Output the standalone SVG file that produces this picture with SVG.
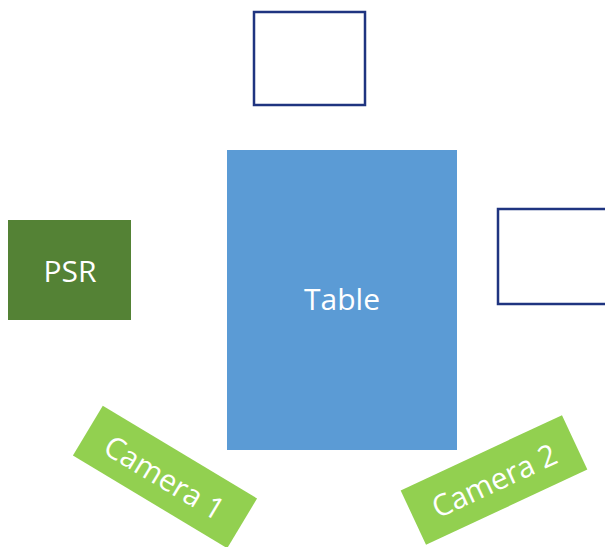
<svg xmlns="http://www.w3.org/2000/svg" width="605" height="547" viewBox="0 0 605 547">
<style>
.lbl{font-family:"Open Sans","Noto Sans","Liberation Sans",sans-serif;font-size:30px;fill:#ffffff;text-anchor:middle;dominant-baseline:central}
.outline{fill:#ffffff;stroke:#1f3480;stroke-width:2.5}
.cam{fill:#92d050}
</style>
<rect width="605" height="547" fill="#ffffff"/>
<g id="top-box"><rect class="outline" x="254" y="12" width="111" height="93"/></g>
<g id="right-box"><rect class="outline" x="498" y="209" width="120" height="95"/></g>
<g id="psr"><rect x="8" y="220" width="123" height="100" fill="#548235"/><text class="lbl" x="70" y="270">PSR</text></g>
<g id="table"><rect x="227" y="150" width="230" height="300" fill="#5b9bd5"/><text class="lbl" x="342" y="298">Table</text></g>
<g id="camera1" transform="translate(165,477) rotate(31)"><rect class="cam" x="-90" y="-29" width="180" height="58"/><text class="lbl" x="0" y="0">Camera 1</text></g>
<g id="camera2" transform="translate(494,480) rotate(-25)"><rect class="cam" x="-89" y="-30" width="178" height="60"/><text class="lbl" x="0" y="0">Camera 2</text></g>
<g id="connectors"/>
</svg>
